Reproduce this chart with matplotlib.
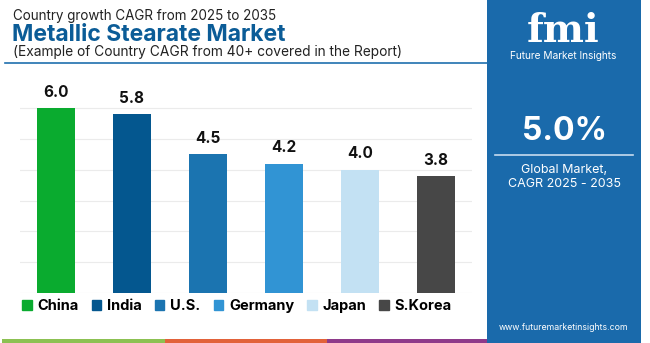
import matplotlib.pyplot as plt
from matplotlib.patches import Rectangle
from matplotlib.lines import Line2D

plt.rcParams['font.family'] = ['Inter', 'DejaVu Sans']

# data
countries = ['China', 'India', 'U.S.', 'Germany', 'Japan', 'S.Korea']
cagr = [6.0, 5.8, 4.5, 4.2, 4.0, 3.8]
colors = ['#0aab2f', '#04578f', '#1b74b0', '#3194d4', '#c3e1f3', '#474747']
global_cagr = '5.0%'

W, H = 650, 343
fig = plt.figure(figsize=(6.5, 3.43), dpi=100)

def fx(px):
    return px / W

def fy(py):
    return 1 - py / H

# chart area
ax = fig.add_axes([fx(20), fy(293), fx(452), (293 - 77.4) / H])
x = list(range(len(countries)))
ax.bar(x, cagr, width=0.5, color=colors, zorder=3)
for xi, v in zip(x, cagr):
    ax.text(xi, v + 0.27, f'{v:.1f}', ha='center', va='bottom',
            fontsize=11, fontweight='bold', color='#111111')
ax.set_xlim(-0.47, 5.47)
ax.set_ylim(0, 7)
ax.set_yticks(range(0, 7))
ax.grid(axis='y', color='#ebebeb', linewidth=0.8, zorder=0)
ax.tick_params(left=False, bottom=False, labelleft=False, labelbottom=False)
for s in ax.spines.values():
    s.set_visible(False)

# titles
fig.text(fx(13), fy(16), 'Country growth CAGR from 2025 to 2035', fontsize=9.7,
         color='#222222', va='center', ha='left')
fig.text(fx(12), fy(35), 'Metallic Stearate Market', fontsize=16.5, fontweight='bold',
         color='#0b5c97', va='center', ha='left')
fig.text(fx(13), fy(52), '(Example of Country CAGR from 40+ covered in the Report)',
         fontsize=9.9, color='#222222', va='center', ha='left')
fig.add_artist(Line2D([fx(5), fx(487)], [fy(62.5), fy(62.5)], color='#1f6fae', linewidth=1.2))

# legend
handles = [Rectangle((0, 0), 1, 1, color=c) for c in colors]
fig.legend(handles, countries, loc='center', bbox_to_anchor=(fx(237), fy(306)),
           ncol=6, frameon=False, handlelength=0.65, handleheight=0.65,
           handletextpad=0.4, columnspacing=0.9,
           prop={'weight': 'bold', 'size': 10.5})

# bottom stripes
for x0, x1, c in [(2, 165, '#8cc152'), (165, 327, '#e2623a'), (327, 490, '#8e3a8a')]:
    fig.add_artist(Rectangle((fx(x0), 0), fx(x1 - x0), 4 / H, color=c, linewidth=0))

# right panel
panel = '#1a6aab'
fig.add_artist(Rectangle((fx(487), 0), fx(154), 1, color=panel, linewidth=0))
fig.text(fx(563), fy(42), 'fmi', fontsize=28, fontweight='bold', family='DejaVu Serif',
         color='white', ha='center', va='baseline')
for yy in range(14, 44, 4):
    fig.add_artist(Line2D([fx(505), fx(622)], [fy(yy), fy(yy)], color=panel, linewidth=0.8))
fig.text(fx(563), fy(56), 'Future Market Insights', fontsize=7.3, color='white',
         ha='center', va='center')
fig.text(fx(564), fy(131), global_cagr, fontsize=23, fontweight='bold', color='white',
         ha='center', va='center')
fig.add_artist(Line2D([fx(495), fx(633)], [fy(155), fy(155)], color='#c7dcef', linewidth=1.2))
fig.text(fx(564), fy(170), 'Global Market,', fontsize=9, color='white',
         ha='center', va='center')
fig.text(fx(564), fy(184), 'CAGR 2025 - 2035', fontsize=9, color='white',
         ha='center', va='center')
fig.text(fx(564), fy(327), 'www.futuremarketinsights.com', fontsize=6.3, color='white',
         ha='center', va='center')

fig.savefig('out.png', dpi=100)
